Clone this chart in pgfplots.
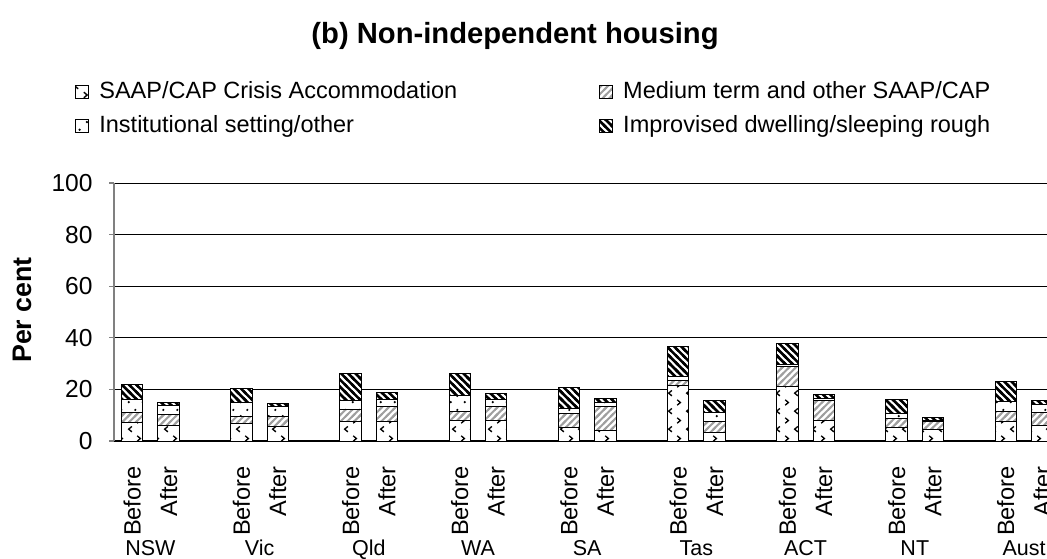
\documentclass[border=0pt]{standalone}
\usepackage{fontspec}
\setmainfont{Liberation Sans}
\usepackage{pgfplots}
\pgfplotsset{compat=1.18}
\usepackage{pgfplotstable}
\usetikzlibrary{patterns}

% small chevrons for the crisis series
\pgfdeclarepatternformonly{chevrons}{\pgfqpoint{0pt}{0pt}}{\pgfqpoint{9pt}{9pt}}{\pgfqpoint{9pt}{9pt}}{%
  \pgfsetlinewidth{0.7pt}%
  \pgfpathmoveto{\pgfqpoint{3.1pt}{0.6pt}}\pgfpathlineto{\pgfqpoint{1.4pt}{2.0pt}}\pgfpathlineto{\pgfqpoint{3.1pt}{3.4pt}}%
  \pgfpathmoveto{\pgfqpoint{5.9pt}{5.1pt}}\pgfpathlineto{\pgfqpoint{7.6pt}{6.5pt}}\pgfpathlineto{\pgfqpoint{5.9pt}{7.9pt}}%
  \pgfusepath{stroke}}
% sparse dots for the institutional series
\pgfdeclarepatternformonly{sparsedots}{\pgfqpoint{0pt}{0pt}}{\pgfqpoint{7pt}{7pt}}{\pgfqpoint{7pt}{7pt}}{%
  \pgfpathcircle{\pgfqpoint{1.5pt}{1.5pt}}{0.65pt}%
  \pgfpathcircle{\pgfqpoint{5pt}{4.8pt}}{0.65pt}%
  \pgfusepath{fill}}
% thin gray stripes /
\pgfdeclarepatternformonly{medlines}{\pgfqpoint{-1pt}{-1pt}}{\pgfqpoint{4.4pt}{4.4pt}}{\pgfqpoint{3.4pt}{3.4pt}}{%
  \pgfsetlinewidth{1pt}%
  \pgfpathmoveto{\pgfqpoint{-1pt}{-1pt}}\pgfpathlineto{\pgfqpoint{4.4pt}{4.4pt}}%
  \pgfusepath{stroke}}
% heavy black stripes \
\pgfdeclarepatternformonly{roughlines}{\pgfqpoint{-1pt}{-1pt}}{\pgfqpoint{4.6pt}{4.6pt}}{\pgfqpoint{3.6pt}{3.6pt}}{%
  \pgfsetlinewidth{1.3pt}%
  \pgfpathmoveto{\pgfqpoint{-1pt}{4.6pt}}\pgfpathlineto{\pgfqpoint{4.6pt}{-1pt}}%
  \pgfusepath{stroke}}

\pgfplotstableread{
x  crisis medium inst improv
0  7.0  4.0  5.0  5.8
1  6.0  4.2  3.5  1.4
3  6.9  2.6  5.5  5.3
4  5.6  3.8  3.8  1.2
6  7.7  4.5  3.5  10.4
7  7.6  5.7  2.7  2.7
9  7.8  3.6  6.3  8.3
10 7.8  5.6  2.8  2.2
12 5.1  5.5  2.1  7.9
13 4.2  9.2  1.4  1.8
15 21.5 1.9  1.5  11.8
16 3.2  4.5  3.5  4.6
18 21.3 7.4  0.8  8.1
19 7.9  7.9  0.8  1.5
21 5.4  3.5  1.8  5.5
22 4.5  2.9  0.4  1.3
24 7.4  4.1  4.0  7.6
25 6.2  4.9  3.1  1.5
}\housing

\begin{document}
\begin{tikzpicture}
\begin{axis}[
    scale only axis,
    width=491.4pt, height=129pt,
    xmin=-0.5, xmax=26.5,
    ymin=0, ymax=100,
    clip=false,
    ybar stacked,
    bar width=10.75pt,
    axis x line*=bottom,
    axis y line*=left,
    x axis line style={black, line width=0.6pt},
    y axis line style={gray, line width=0.8pt},
    ymajorgrids,
    grid style={black, line width=0.5pt},
    ytick={0,20,...,100},
    ytick style={gray, line width=0.6pt},
    tick align=outside,
    major tick length=2.5pt,
    xtick=data,
    xtick style={draw=none},
    xticklabels={Before,After,Before,After,Before,After,Before,After,Before,After,
                 Before,After,Before,After,Before,After,Before,After},
    xticklabel style={rotate=90, anchor=east, inner sep=0pt, xshift=-10pt,
                      font=\fontsize{11.8}{14}\selectfont},
    yticklabel style={anchor=east, inner sep=0pt, xshift=-8pt,
                      font=\fontsize{12.3}{14}\selectfont},
    /pgf/number format/assume math mode=true,
    ylabel={Per cent},
    ylabel style={at={(axis description cs:-0.0936,0.508)}, anchor=center,
                  font=\bfseries\fontsize{13.4}{16}\selectfont},
    legend columns=2,
    legend cell align=left,
    legend style={at={(axis description cs:-0.0397,1.41)}, anchor=north west,
                  draw=none, fill=none, inner sep=0pt, row sep=3pt,
                  font=\fontsize{11.75}{14}\selectfont,
                  /tikz/every odd column/.append style={column sep=3pt},
                  /tikz/every even column/.append style={column sep=69pt}},
    legend image code/.code={\draw[#1] (0pt,-3.2pt) rectangle (6.5pt,3.2pt);},
    every axis plot/.append style={draw=black, line width=0.5pt},
]
\addplot[fill=white, postaction={pattern=chevrons, pattern color=black}]
    table[x=x, y=crisis] {\housing};
\addlegendentry{SAAP/CAP Crisis Accommodation}
\addplot[fill=white, postaction={pattern=medlines, pattern color=gray!75}]
    table[x=x, y=medium] {\housing};
\addlegendentry{Medium term and other SAAP/CAP}
\addplot[fill=white, postaction={pattern=sparsedots, pattern color=black}]
    table[x=x, y=inst] {\housing};
\addlegendentry{Institutional setting/other}
\addplot[fill=white, postaction={pattern=roughlines, pattern color=black}]
    table[x=x, y=improv] {\housing};
\addlegendentry{Improvised dwelling/sleeping rough}

% state names centred under each pair
\node[anchor=base, font=\fontsize{10.75}{13}\selectfont] at (axis cs:0.5,0)  [yshift=-57pt] {NSW};
\node[anchor=base, font=\fontsize{10.75}{13}\selectfont] at (axis cs:3.5,0)  [yshift=-57pt] {Vic};
\node[anchor=base, font=\fontsize{10.75}{13}\selectfont] at (axis cs:6.5,0)  [yshift=-57pt] {Qld};
\node[anchor=base, font=\fontsize{10.75}{13}\selectfont] at (axis cs:9.5,0)  [yshift=-57pt] {WA};
\node[anchor=base, font=\fontsize{10.75}{13}\selectfont] at (axis cs:12.5,0) [yshift=-57pt] {SA};
\node[anchor=base, font=\fontsize{10.75}{13}\selectfont] at (axis cs:15.5,0) [yshift=-57pt] {Tas};
\node[anchor=base, font=\fontsize{10.75}{13}\selectfont] at (axis cs:18.5,0) [yshift=-57pt] {ACT};
\node[anchor=base, font=\fontsize{10.75}{13}\selectfont] at (axis cs:21.5,0) [yshift=-57pt] {NT};
\node[anchor=base, font=\fontsize{10.75}{13}\selectfont] at (axis cs:24.5,0) [yshift=-57pt] {Aust};
\end{axis}
\node[font=\bfseries\fontsize{14.6}{18}\selectfont] at (200.5pt,202.5pt)
    {(b) Non-independent housing};
\pgfresetboundingbox
\useasboundingbox (-57pt,-58.5pt) rectangle (466.5pt,220.5pt);
\end{tikzpicture}
\end{document}
